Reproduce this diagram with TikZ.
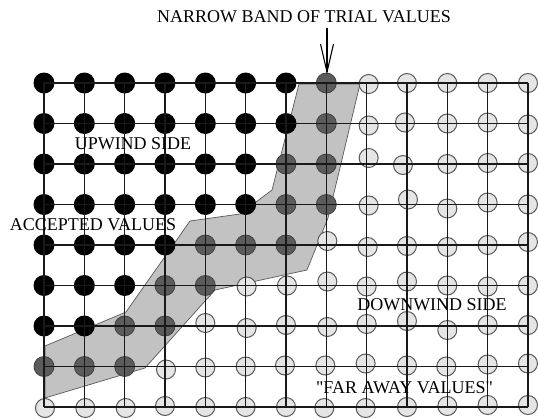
\documentclass[tikz,border=0pt]{standalone}
\usepackage{fontspec}
\setmainfont{Liberation Serif}
\newfontfamily\plainquotes{Liberation Serif}
\definecolor{bandfill}{gray}{0.76}
\definecolor{bandedge}{gray}{0.35}
\definecolor{darkfill}{gray}{0.36}
\definecolor{darkedge}{gray}{0.25}
\definecolor{lightfill}{gray}{0.90}
\definecolor{lightedge}{gray}{0.35}
\definecolor{gridcol}{gray}{0.1}
\begin{document}
\begin{tikzpicture}[x=1pt,y=-1pt,
  blackpt/.style={circle,fill=black,minimum size=21pt,inner sep=0pt},
  darkpt/.style={circle,fill=darkfill,draw=darkedge,line width=0.8pt,minimum size=20pt,inner sep=0pt},
  lightpt/.style={circle,fill=lightfill,draw=lightedge,line width=1pt,minimum size=19pt,inner sep=0pt},
  gridline/.style={draw=gridcol,line width=1.3pt},
  lbl/.style={font=\fontsize{18}{20}\selectfont,inner sep=0pt,text=black},
  pointer/.style={draw=black,line width=1.1pt,line join=miter}]
\useasboundingbox (0,0) rectangle (538,418);
% narrow band
\filldraw[fill=bandfill,draw=bandedge,line width=0.7pt]
  (299,84) -- (360,84) -- (328,218) -- (307,270) -- (215,290) -- (145,368)
  -- (45,398) -- (45,346) -- (126,312) -- (190,221) -- (240,214) -- (272,190) -- cycle;
% accepted (black) points
\foreach \j/\last in {0/6,1/6,2/5,3/5,4/3,5/2,6/1}
  \foreach \i in {0,...,\last}
    \node[blackpt] (p-\i-\j) at ({44+40.33*\i},{83+40.5*\j}) {};
% trial (dark) points
\foreach \i/\j in {7/0,7/1,6/2,7/2,6/3,7/3,4/4,5/4,6/4,3/5,4/5,2/6,3/6,0/7,1/7,2/7}
  \node[darkpt] (p-\i-\j) at ({44+40.33*\i},{83+40.5*\j}) {};
% far away (light) points
\foreach \i/\j/\dx/\dy in {
  8/0/2/1, 9/0/0/0, 10/0/0/0, 11/0/0/0, 12/0/0/0,
  8/1/2/2, 9/1/-2/-1, 10/1/0/0, 11/1/0/-1, 12/1/0/1,
  8/2/2/-6, 9/2/-4/1, 10/2/0/0, 11/2/0/-1, 12/2/0/-1,
  8/3/2/1, 9/3/1/-5, 10/3/0/4, 11/3/0/-2, 12/3/0/0,
  7/4/1/-4, 8/4/1/2, 9/4/0/1, 10/4/0/2, 11/4/0/0, 12/4/0/-3,
  5/5/1/1, 6/5/1/0, 7/5/1/-4, 8/5/0/1, 9/5/0/-4, 10/5/0/0, 11/5/0/1, 12/5/0/0,
  4/6/0/-3, 5/6/1/2, 6/6/0/-1, 7/6/1/1, 8/6/0/-2, 9/6/0/-5, 10/6/0/4, 11/6/0/-1, 12/6/0/-1,
  3/7/1/3, 4/7/0/1, 5/7/0/0, 6/7/-1/-1, 7/7/-1/-1, 8/7/-1/-3, 9/7/0/-1, 10/7/-1/0, 11/7/0/-2, 12/7/0/-3,
  0/8/1/1, 1/8/1/1, 2/8/1/1, 3/8/0/-1, 4/8/0/0, 5/8/0/0, 6/8/0/0, 7/8/-2/1, 8/8/-1/1, 9/8/0/0, 10/8/0/-1, 11/8/0/-2, 12/8/0/-2}
  \node[lightpt] (p-\i-\j) at ({44+40.33*\i+\dx},{83+40.5*\j+\dy}) {};
% grid lines
\foreach \i in {0,...,12} {
  \coordinate (gt-\i) at ({44+40.33*\i},83);
  \coordinate (gb-\i) at ({44+40.33*\i},407);
  \draw[gridline] (gt-\i) -- (gb-\i);
}
\foreach \j in {0,...,8} {
  \coordinate (gl-\j) at (44,{83+40.5*\j});
  \coordinate (gr-\j) at (528,{83+40.5*\j});
  \draw[gridline] (gl-\j) -- (gr-\j);
}
% labels
\node[lbl] (title) at (304,17) {NARROW BAND OF TRIAL VALUES};
\node[lbl] (upwind) at (133,144) {UPWIND SIDE};
\node[lbl] (accepted) at (93,225) {ACCEPTED VALUES};
\node[lbl] (downwind) at (432,305) {DOWNWIND SIDE};
\node[lbl,font=\plainquotes\fontsize{18}{20}\selectfont] (faraway) at (404.5,388) {"FAR AWAY VALUES"};
% arrow
\coordinate (arrowstart) at (327,28);
\coordinate (arrowtip) at (327,72);
\draw[pointer] (arrowstart) -- (arrowtip);
\draw[pointer] ([shift={(-6.5,-28)}]arrowtip) -- (arrowtip) -- ([shift={(6.5,-28)}]arrowtip);
\end{tikzpicture}
\end{document}
